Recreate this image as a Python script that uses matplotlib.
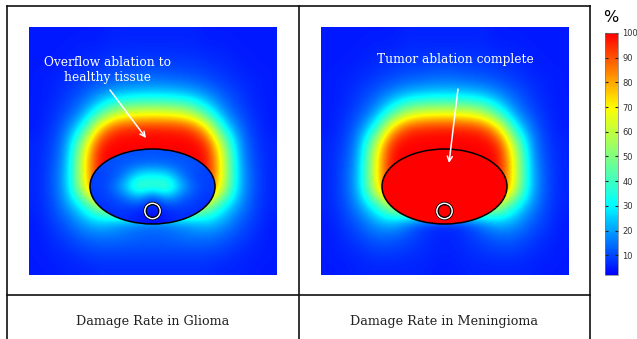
"""
Damage rate maps for glioma and meningioma, laid out as a two-cell table
with a shared colour bar on the right.
"""

import numpy as np
import matplotlib
matplotlib.use('Agg')
import matplotlib.pyplot as plt
from matplotlib.colors import LinearSegmentedColormap, Normalize
from matplotlib.patches import Ellipse, Circle

# damage rate (%) on a 16 x 16 grid over each map,
# left half only -- both maps are mirror symmetric about the probe axis
glioma_half = [
    [5, 5, 5, 5, 5, 6, 6, 6],
    [5, 5, 5, 6, 6, 7, 7, 7],
    [5, 5, 6, 7, 8, 9, 9, 10],
    [5, 6, 7, 9, 11, 13, 14, 15],
    [5, 6, 9, 13, 19, 25, 28, 29],
    [5, 7, 11, 18, 36, 56, 63, 65],
    [5, 8, 15, 32, 74, 93, 96, 97],
    [6, 9, 19, 57, 96, 100, 100, 100],
    [6, 10, 21, 67, 100, 100, 100, 100],
    [6, 11, 23, 67, 100, 100, 100, 100],
    [6, 11, 23, 62, 100, 100, 100, 100],
    [6, 10, 19, 32, 56, 70, 80, 80],
    [5, 9, 13, 21, 26, 22, 18, 15],
    [5, 7, 10, 13, 15, 15, 14, 13],
    [5, 6, 7, 9, 10, 10, 10, 10],
    [5, 5, 6, 6, 7, 7, 7, 7],
]
meningioma_half = [
    [5, 5, 5, 5, 5, 6, 6, 6],
    [5, 5, 5, 6, 6, 7, 7, 7],
    [5, 5, 6, 7, 8, 9, 9, 10],
    [5, 6, 7, 9, 11, 13, 14, 15],
    [5, 6, 9, 13, 19, 25, 28, 29],
    [5, 7, 11, 18, 36, 56, 63, 65],
    [5, 8, 15, 32, 74, 93, 96, 97],
    [6, 9, 19, 57, 96, 100, 100, 100],
    [6, 10, 21, 67, 100, 100, 100, 100],
    [6, 11, 23, 67, 100, 100, 100, 100],
    [6, 11, 23, 64, 100, 100, 100, 100],
    [6, 10, 19, 34, 58, 70, 75, 75],
    [5, 9, 13, 21, 25, 18, 10, 7],
    [5, 7, 10, 13, 13, 11, 8, 6],
    [5, 6, 7, 9, 9, 8, 7, 6],
    [5, 5, 6, 6, 6, 6, 6, 5],
]
# inside the tumour outline
glioma_inside = [
    [11, 11, 11, 11, 11, 11, 11, 11, 11],
    [10, 11, 12, 14, 15, 14, 12, 11, 10],
    [9, 10, 16, 30, 32, 30, 16, 10, 9],
    [9, 12, 24, 45, 38, 45, 24, 12, 9],
    [8, 10, 14, 22, 8, 22, 14, 10, 8],
    [7, 8, 9, 8, 4, 8, 9, 8, 7],
    [6, 7, 7, 5, 3, 5, 7, 7, 6],
]
meningioma_inside = [[100]]

cbar_ticks = [10, 20, 30, 40, 50, 60, 70, 80, 90, 100]
cbar_min, cbar_max = 2, 100
captions = ['Damage Rate in Glioma', 'Damage Rate in Meningioma']
notes = ['Overflow ablation to\nhealthy tissue', 'Tumor ablation complete']

W, H = 637, 339
SIZE = 248  # map side, pixels
ELL_C, ELL_W, ELL_H = (123.5, 159.5), 125, 75
PROBE_C = (123.5, 184)
SERIF = 'DejaVu Serif'

cmap = LinearSegmentedColormap.from_list(
    'rainbow_comsol',
    [(0.0, (0, 0, 1)), (0.29, (0, 1, 1)), (0.69, (1, 1, 0)), (1.0, (1, 0, 0))])
norm = Normalize(vmin=cbar_min, vmax=cbar_max)


def full_field(half):
    half = np.array(half, dtype=float)
    return np.hstack([half, half[:, ::-1]])


def draw_map(ax, half, inside, note, note_xy, tail, head):
    ax.imshow(full_field(half), cmap=cmap, norm=norm, extent=(0, SIZE, SIZE, 0),
              interpolation='bicubic', interpolation_stage='data',
              aspect='auto')
    ell = Ellipse(ELL_C, ELL_W, ELL_H, fill=False, ec='black', lw=1.1, zorder=3)
    ax.add_patch(ell)
    x0, y0 = ELL_C[0] - ELL_W / 2, ELL_C[1] - ELL_H / 2
    im = ax.imshow(np.array(inside, dtype=float), cmap=cmap, norm=norm,
                   extent=(x0, x0 + ELL_W, y0 + ELL_H, y0),
                   interpolation='bicubic', interpolation_stage='data',
                   aspect='auto', zorder=2)
    im.set_clip_path(ell)
    # probe: white ring with black edges
    ax.add_patch(Circle(PROBE_C, 8.6, fill=False, ec='black', lw=0.9, zorder=4))
    ax.add_patch(Circle(PROBE_C, 7.5, fill=False, ec='white', lw=1.3, zorder=4))
    ax.add_patch(Circle(PROBE_C, 6.3, fill=False, ec='black', lw=0.9, zorder=4))
    ax.text(note_xy[0], note_xy[1], note, color='white', fontsize=8.8,
            family=SERIF, ha='center', va='center', linespacing=1.2)
    ax.annotate('', xy=head, xytext=tail,
                arrowprops=dict(arrowstyle='->', color='white', lw=1.1,
                                mutation_scale=9, shrinkA=0, shrinkB=0))
    ax.set_xlim(0, SIZE)
    ax.set_ylim(SIZE, 0)
    ax.axis('off')


fig = plt.figure(figsize=(W / 100, H / 100), dpi=100)

# table frame and captions, in pixel coordinates
bg = fig.add_axes([0, 0, 1, 1])
bg.set_xlim(0, W)
bg.set_ylim(H, 0)
bg.axis('off')
frame = dict(color='#111111', lw=1.2, solid_capstyle='projecting')
bg.plot([7, 590], [6, 6], **frame)
bg.plot([7, 590], [295, 295], **frame)
for x in (7, 299, 590):
    bg.plot([x, x], [6, H + 2], **frame)
bg.text(153, 321, captions[0], family=SERIF, fontsize=9.2, ha='center',
        va='center', color='#222222')
bg.text(444.5, 321, captions[1], family=SERIF, fontsize=9.2, ha='center',
        va='center', color='#222222')

ax1 = fig.add_axes([29 / W, (H - 275) / H, SIZE / W, SIZE / H])
draw_map(ax1, glioma_half, glioma_inside, notes[0], (78.5, 43),
         (81, 63), (117, 111))
ax2 = fig.add_axes([321 / W, (H - 275) / H, SIZE / W, SIZE / H])
draw_map(ax2, meningioma_half, meningioma_inside, notes[1], (134, 33),
         (137, 62), (128, 136))

cax = fig.add_axes([605 / W, (H - 275) / H, 13 / W, 242 / H])
sm = plt.cm.ScalarMappable(norm=norm, cmap=cmap)
cb = fig.colorbar(sm, cax=cax, ticks=cbar_ticks)
cb.outline.set_linewidth(0.5)
cb.outline.set_edgecolor('#777777')
cax.tick_params(axis='y', direction='in', left=True, right=True,
                labelleft=False, labelright=True, length=2.5, width=0.8,
                color='#222222', labelsize=6, labelcolor='#333333', pad=3)
fig.text(611 / W, 1 - 18 / H, '%', fontsize=11.5, ha='center', va='center')

fig.savefig('out.png', dpi=100)
